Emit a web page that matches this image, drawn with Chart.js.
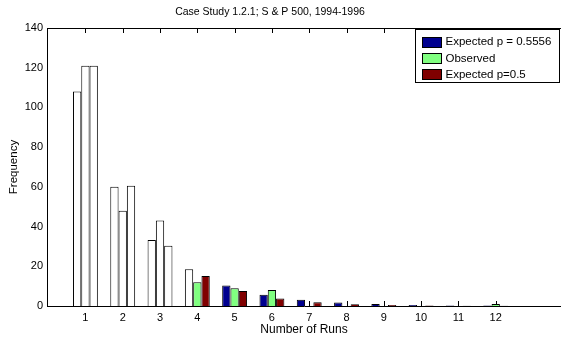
<!DOCTYPE html>
<html>
<head>
<meta charset="utf-8">
<script src="https://cdn.jsdelivr.net/npm/chart.js@4.4.1/dist/chart.umd.min.js"></script>
<style>
  html, body { margin: 0; padding: 0; background: #fff; overflow: hidden; }
</style>
</head>
<body>
<canvas id="Graph" width="561" height="338"></canvas>
<script>
const runs = [1, 2, 3, 4, 5, 6, 7, 8, 9, 10, 11, 12];
const expected5556 = [108, 60, 33.3, 18.5, 10.3, 5.7, 3.2, 1.8, 1.0, 0.5, 0.3, 0.2];
const observed = [121, 48, 43, 12, 9, 8, 0, 0, 0, 0, 0, 1];
const expected50 = [121, 60.5, 30.3, 15.1, 7.6, 3.8, 1.9, 0.9, 0.5, 0.2, 0.1, 0.1];
const seriesNames = ['Expected p = 0.5556', 'Observed', 'Expected p=0.5'];
const seriesColors = ['#00008f', '#80ff80', '#800000'];
// bars up to this run length are left unfilled
const unfilledUpTo = [4, 3, 3];
const yTicks = [0, 20, 40, 60, 80, 100, 120, 140];

const family = '"Liberation Sans", Arial, sans-serif';
const font = { family: family, size: 11 };
const series = [expected5556, observed, expected50];

let canvas = document.getElementById("Graph");

// box top edge and inward tick marks go under the bars,
// title and boxed legend go on top
const frame = {
  id: 'frame',
  beforeDatasetsDraw(chart) {
    const ctx = chart.ctx;
    const a = chart.chartArea;
    const xs = chart.scales.x;
    ctx.save();
    ctx.strokeStyle = '#000';
    ctx.lineWidth = 1;
    ctx.beginPath();
    ctx.moveTo(a.left, a.top + 0.5);
    ctx.lineTo(a.right, a.top + 0.5);
    runs.forEach(r => {
      const px = Math.round(xs.getPixelForValue(r)) + 0.5;
      ctx.moveTo(px, a.top);
      ctx.lineTo(px, a.top + 5);
      ctx.moveTo(px, a.bottom);
      ctx.lineTo(px, a.bottom - 5);
    });
    ctx.stroke();
    ctx.restore();
  },
  afterDatasetsDraw(chart) {
    const ctx = chart.ctx;
    ctx.save();
    ctx.strokeStyle = '#000';
    ctx.lineWidth = 1;
    ctx.fillStyle = '#000';
    ctx.font = '10.5px ' + family;
    ctx.textAlign = 'center';
    ctx.textBaseline = 'middle';
    ctx.fillText('Case Study 1.2.1; S & P 500, 1994-1996', 270, 12.5);

    // legend
    const lx = 415.5, ly = 29.5, lw = 144, lh = 53;
    ctx.fillStyle = '#fff';
    ctx.fillRect(lx, ly, lw, lh);
    ctx.strokeRect(lx, ly, lw, lh);
    ctx.font = '11.5px ' + family;
    ctx.textAlign = 'left';
    chart.data.datasets.forEach((ds, i) => {
      const cy = ly + 12 + i * 16.4;
      ctx.fillStyle = seriesColors[i];
      ctx.fillRect(lx + 7, Math.round(cy - 5) + 0.5, 19, 10);
      ctx.strokeRect(lx + 7, Math.round(cy - 5) + 0.5, 19, 10);
      ctx.fillStyle = '#000';
      ctx.fillText(ds.label, lx + 30, cy + 0.5);
    });
    ctx.restore();
  }
};

const data = {
  datasets: seriesNames.map((name, s) => ({
    label: name,
    data: runs.map((r, i) => ({ x: r, y: series[s][i] })),
    backgroundColor: runs.map(r => r <= unfilledUpTo[s] ? '#ffffff' : seriesColors[s]),
    borderColor: '#000',
    borderWidth: 1,
    categoryPercentage: 0.667,
    barPercentage: 1.0
  }))
};

const config = {
  type: 'bar',
  data: data,
  options: {
    responsive: false,
    animation: false,
    layout: { padding: { top: 28, right: 0, left: 0, bottom: 0 } },
    plugins: {
      legend: { display: false },
      title: { display: false },
      tooltip: { enabled: false }
    },
    scales: {
      x: {
        type: 'linear',
        offset: false,
        min: -0.03,
        max: 13.75,
        afterFit: s => { s.height = 32; },
        afterBuildTicks: s => { s.ticks = runs.map(v => ({ value: v })); },
        grid: { display: false, drawTicks: false },
        border: { color: '#000', width: 1 },
        ticks: { padding: 5, font: font, color: '#000', autoSkip: false, maxRotation: 0 },
        title: { display: true, text: 'Number of Runs', padding: { top: 0, bottom: 1 }, font: { family: family, size: 12 }, color: '#000' }
      },
      y: {
        min: 0,
        max: 140,
        afterFit: s => { s.width = 47; },
        afterBuildTicks: s => { s.ticks = yTicks.map(v => ({ value: v })); },
        grid: { display: false, drawTicks: false },
        border: { color: '#000', width: 1 },
        ticks: { padding: 4, font: font, color: '#000' },
        title: { display: true, text: 'Frequency', padding: { top: 7 }, font: { family: family, size: 11.5 }, color: '#000' }
      }
    }
  },
  plugins: [frame]
};

const chart = new Chart(canvas, config);
</script>
</body>
</html>
